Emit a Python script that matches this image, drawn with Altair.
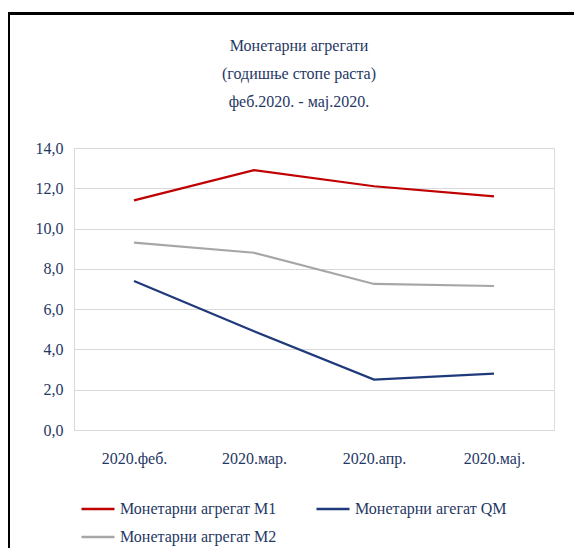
import altair as alt
import pandas as pd

months = ["2020.феб.", "2020.мар.", "2020.апр.", "2020.мај."]
series_names = ["Монетарни агрегат M1", "Монетарни агегат QM", "Монетарни агрегат M2"]
m1 = [11.4, 12.9, 12.1, 11.6]
qm = [7.4, 4.9, 2.5, 2.8]
m2 = [9.3, 8.8, 7.25, 7.15]
colors = ["#C00000", "#1F3A7A", "#A6A6A6"]

rows = []
for name, vals in zip(series_names, [m1, qm, m2]):
    for m, v in zip(months, vals):
        rows.append({"month": m, "series": name, "value": v})
df = pd.DataFrame(rows)

FONT = "Liberation Serif"
TXT = "#1F3864"

lines = alt.Chart(df).mark_line(strokeWidth=2.2).encode(
    x=alt.X("month:O", sort=months, scale=alt.Scale(type="point", padding=0.5),
            axis=alt.Axis(title=None, labelAngle=0, ticks=False, domain=False,
                          labelPadding=20, labelFontSize=16, labelFont=FONT,
                          labelColor=TXT, grid=False)),
    y=alt.Y("value:Q", scale=alt.Scale(domain=[0, 14]),
            axis=alt.Axis(title=None, values=[0, 2, 4, 6, 8, 10, 12, 14],
                          labelExpr="replace(format(datum.value, '.1f'), '.', ',')",
                          ticks=False, domain=True, domainColor="#D9D9D9",
                          gridColor="#D9D9D9", labelPadding=11, labelFontSize=16,
                          labelFont=FONT, labelColor=TXT)),
    color=alt.Color("series:N", sort=series_names,
                    scale=alt.Scale(domain=series_names, range=colors),
                    legend=alt.Legend(title=None, orient="none", legendX=6, legendY=343,
                                      direction="horizontal", columns=2,
                                      symbolType="stroke", symbolSize=1089,
                                      symbolStrokeWidth=2.5, labelFontSize=16,
                                      labelFont=FONT, labelColor=TXT, labelOffset=4,
                                      columnPadding=34, rowPadding=2, padding=0,
                                      labelLimit=300)),
)

border_top = alt.Chart(df).mark_rule(color="black", strokeWidth=2).encode(
    x=alt.value(-66), x2=alt.value(520), y=alt.value(-134.5))
border_left = alt.Chart(df).mark_rule(color="black", strokeWidth=2).encode(
    x=alt.value(-65), y=alt.value(-135.5), y2=alt.value(420))

chart = alt.layer(lines, border_top, border_left).properties(
    width=480, height=282,
    autosize=alt.AutoSizeParams(type="none"),
    padding={"left": 66, "top": 140, "right": 20, "bottom": 118},
    title=alt.TitleParams(
        text=["Монетарни агрегати", "(годишње стопе раста)", "феб.2020. - мај.2020."],
        anchor="middle", offset=-98, dx=-15, fontSize=16, font=FONT,
        fontWeight="normal", color=TXT, lineHeight=28),
).configure_view(stroke=None).configure(background="white", font=FONT)

chart.save("out.html", embed_options={"renderer": "svg", "actions": False})
